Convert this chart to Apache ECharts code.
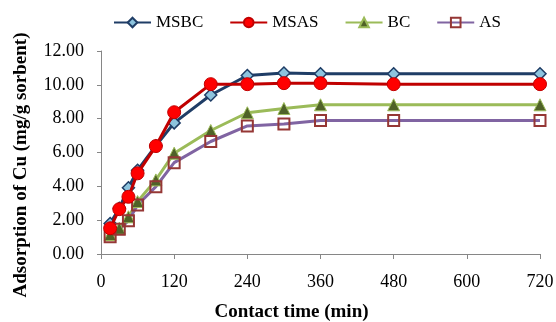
<!DOCTYPE html>
<html>
<head>
<meta charset="utf-8">
<script src="https://cdn.jsdelivr.net/npm/echarts@6/dist/echarts.min.js"></script>
<style>
  html, body { margin: 0; padding: 0; background: #fff; }
  #chart { width: 556px; height: 322px; }
</style>
</head>
<body>
<div id="chart"></div>
<script>
// contact time (min)
const times = [15, 30, 45, 60, 90, 120, 180, 240, 300, 360, 480, 720]
const msbc = [1.80, 2.70, 3.92, 4.95, 6.40, 7.75, 9.40, 10.55, 10.70, 10.65, 10.65, 10.65]
const msas = [1.52, 2.65, 3.38, 4.77, 6.38, 8.38, 10.04, 10.04, 10.10, 10.10, 10.04, 10.04]
const bc = [1.15, 1.52, 2.20, 3.10, 4.38, 5.96, 7.30, 8.35, 8.60, 8.82, 8.82, 8.82]
const as = [1.02, 1.46, 1.97, 2.90, 3.98, 5.40, 6.65, 7.57, 7.69, 7.89, 7.89, 7.89]

const font = 'Liberation Serif'
const pairs = arr => arr.map((v, i) => [times[i], v])

const chart = echarts.init(document.getElementById('chart'))

chart.setOption({
  animation: false,
  textStyle: { fontFamily: font },
  grid: { left: 101, right: 16, top: 51, bottom: 68, outerBoundsMode: 'none' },
  legend: {
    top: 9,
    left: 108,
    itemGap: 26,
    itemWidth: 37,
    itemHeight: 12,
    textStyle: { fontFamily: font, fontSize: 17, color: '#000' },
    data: ['MSBC', 'MSAS', 'BC', 'AS']
  },
  xAxis: {
    type: 'value',
    min: 0,
    max: 720,
    interval: 120,
    name: 'Contact time (min)',
    nameLocation: 'middle',
    nameGap: 49,
    nameTextStyle: { fontFamily: font, fontSize: 19, fontWeight: 'bold', color: '#000', padding: [0, 58, 0, 0] },
    axisLine: { lineStyle: { color: '#868686' } },
    axisTick: { show: true, length: 5, lineStyle: { color: '#868686' } },
    axisLabel: { fontFamily: font, fontSize: 18, color: '#000', margin: 19 },
    splitLine: { show: false }
  },
  yAxis: {
    type: 'value',
    min: 0,
    max: 12,
    interval: 2,
    name: 'Adsorption of Cu (mg/g sorbent)',
    nameLocation: 'middle',
    nameGap: 70,
    nameTextStyle: { fontFamily: font, fontSize: 19, fontWeight: 'bold', color: '#000', padding: [0, 25, 0, 0] },
    axisLine: { show: true, lineStyle: { color: '#868686' } },
    axisTick: { show: true, length: 4, lineStyle: { color: '#868686' } },
    axisLabel: { fontFamily: font, fontSize: 18, color: '#000', margin: 17, formatter: v => v.toFixed(2) },
    splitLine: { show: false }
  },
  series: [
    {
      name: 'MSBC',
      type: 'line',
      data: pairs(msbc),
      symbol: 'diamond',
      symbolSize: 12,
      lineStyle: { color: '#1F3D66', width: 3 },
      itemStyle: { color: '#8DC4DE', borderColor: '#1F3D66', borderWidth: 1.5 },
      z: 2
    },
    {
      name: 'MSAS',
      type: 'line',
      data: pairs(msas),
      symbol: 'circle',
      symbolSize: 13,
      lineStyle: { color: '#C00000', width: 3 },
      itemStyle: { color: '#FF0000', borderColor: '#C00000', borderWidth: 1 },
      z: 3
    },
    {
      name: 'BC',
      type: 'line',
      data: pairs(bc),
      symbol: 'triangle',
      symbolSize: 12,
      lineStyle: { color: '#9BBB59', width: 3 },
      itemStyle: { color: '#4F6228', borderColor: '#9BBB59', borderWidth: 1 },
      z: 2
    },
    {
      name: 'AS',
      type: 'line',
      data: pairs(as),
      symbol: 'rect',
      symbolSize: 11,
      lineStyle: { color: '#8064A2', width: 3 },
      itemStyle: { color: 'rgba(255,255,255,0)', borderColor: '#953735', borderWidth: 2 },
      z: 2
    }
  ]
})
</script>
</body>
</html>
